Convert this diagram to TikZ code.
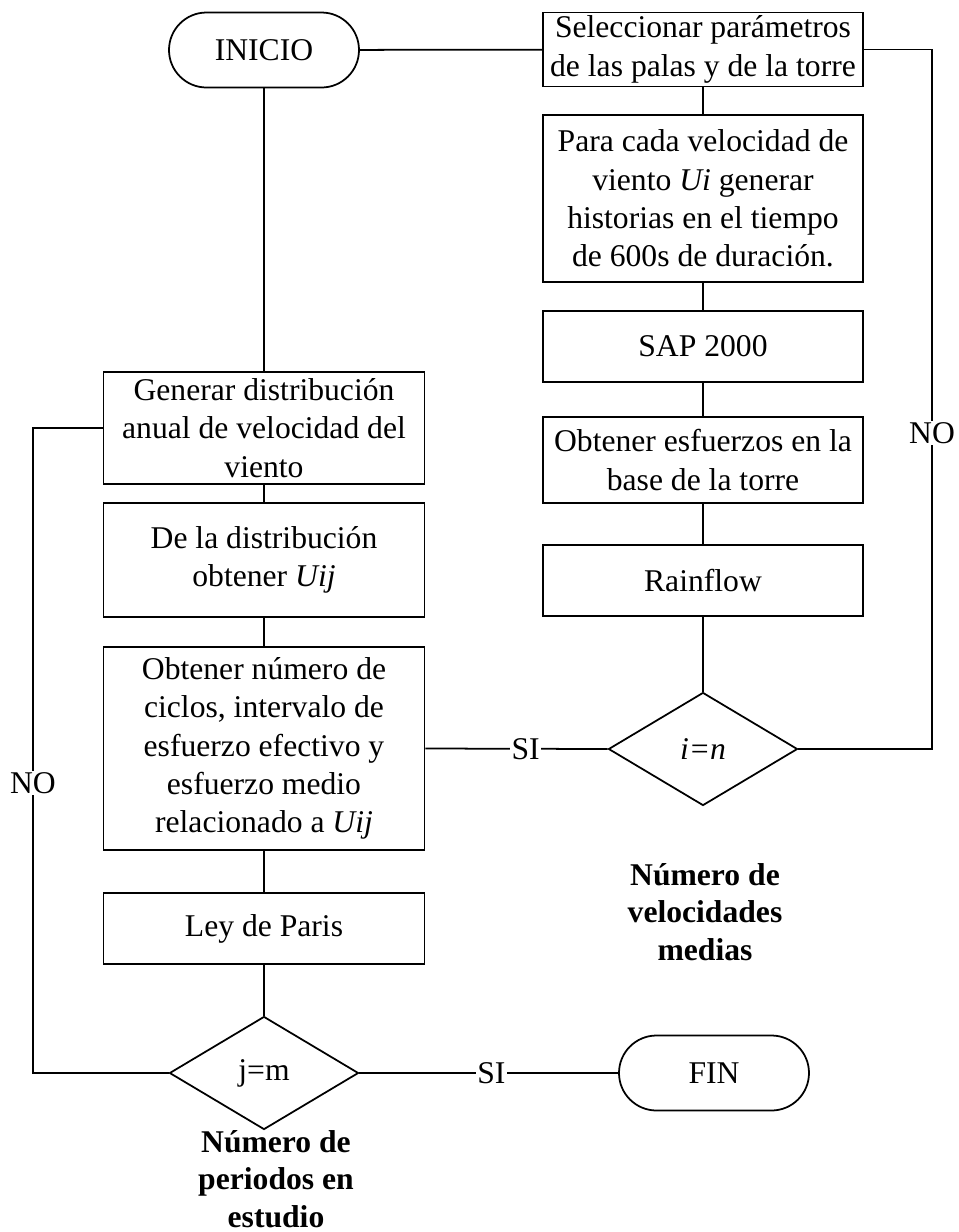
\documentclass[tikz,border=0pt]{standalone}
\usepackage{fontspec}
\setmainfont{Liberation Serif}
\usetikzlibrary{positioning,shapes.geometric}

\begin{document}
\begin{tikzpicture}[
    font=\fontsize{18}{21.8}\selectfont,
    proc/.style={rectangle, draw, line width=1pt, align=center, minimum width=6.4cm, inner sep=2pt},
    terminal/.style={rectangle, draw, line width=1pt, rounded corners=0.75cm, minimum width=3.8cm, minimum height=1.5cm},
    decision/.style={diamond, draw, line width=1pt, aspect=1.68, minimum width=3.78cm, minimum height=2.26cm, inner sep=0pt},
    answer/.style={fill=white, inner sep=1pt},
    note/.style={align=center, font=\fontsize{18}{21.4}\selectfont\bfseries},
    link/.style={line width=1pt}
]

\useasboundingbox (0,0) rectangle (19.18,-24.64);

% Start and end
\node[terminal] (inicio) at (5.28, -1.0) {INICIO};
\node[terminal] (fin) at (14.28, -21.46) {FIN};

% Right column: time histories per wind speed
\node[proc, minimum height=1.46cm] (sel) at (14.06, -0.99) {Seleccionar parámetros\\de las palas y de la torre};
\node[proc, minimum height=3.34cm] (para) at (14.06, -3.97) {Para cada velocidad de\\viento \textit{Ui} generar\\historias en el tiempo\\de 600s de duración.};
\node[proc, minimum height=1.42cm] (sap) at (14.06, -6.93) {SAP 2000};
\node[proc, minimum height=1.72cm] (esf) at (14.06, -9.2) {Obtener esfuerzos en la\\base de la torre};
\node[proc, minimum height=1.42cm] (rain) at (14.06, -11.61) {Rainflow};
\node[decision] (deci) at (14.06, -14.98) {\textit{i=n}};

% Left column: annual distribution and damage
\node[proc, minimum width=6.42cm, minimum height=2.24cm] (gen) at (5.28, -8.56) {Generar distribución\\anual de velocidad del\\viento};
\node[proc, minimum width=6.42cm, minimum height=2.28cm] (dist) at (5.28, -11.2) {De la distribución\\obtener \textit{Uij}};
\node[proc, minimum width=6.42cm, minimum height=4.06cm] (ciclos) at (5.28, -14.97) {Obtener número de\\ciclos, intervalo de\\esfuerzo efectivo y\\esfuerzo medio\\relacionado a \textit{Uij}};
\node[proc, minimum width=6.42cm, minimum height=1.42cm] (paris) at (5.28, -18.57) {Ley de Paris};
\node[decision] (decj) at (5.28, -21.46) {j=m};

% Loop counters
\node[note] (nvel) at (14.1, -18.24) {Número de\\velocidades\\medias};
\node[note] (nper) at (5.52, -23.58) {Número de\\periodos en\\estudio};

% Main flow
\draw[link] (inicio) -- (sel);
\draw[link] (sel) -- (para);
\draw[link] (para) -- (sap);
\draw[link] (sap) -- (esf);
\draw[link] (esf) -- (rain);
\draw[link] (rain) -- (deci);
\draw[link] (inicio) -- (gen);
\draw[link] (gen) -- (dist);
\draw[link] (dist) -- (ciclos);
\draw[link] (ciclos) -- (paris);
\draw[link] (paris) -- (decj);

% Decisions
\coordinate (retI) at (18.64, -8.66);
\coordinate (retJ) at (0.66, -15.66);
\draw[link] (sel.east) -| (retI) |- (deci.east);
\node[answer] at (retI) {NO};
\draw[link] (gen.west) -| (retJ) |- (decj.west);
\node[answer] at (retJ) {NO};
\draw[link] (ciclos.east) -- (deci.west) node[answer, pos=0.55] {SI};
\draw[link] (decj.east) -- (fin.west) node[answer, pos=0.51] {SI};

\end{tikzpicture}
\end{document}
